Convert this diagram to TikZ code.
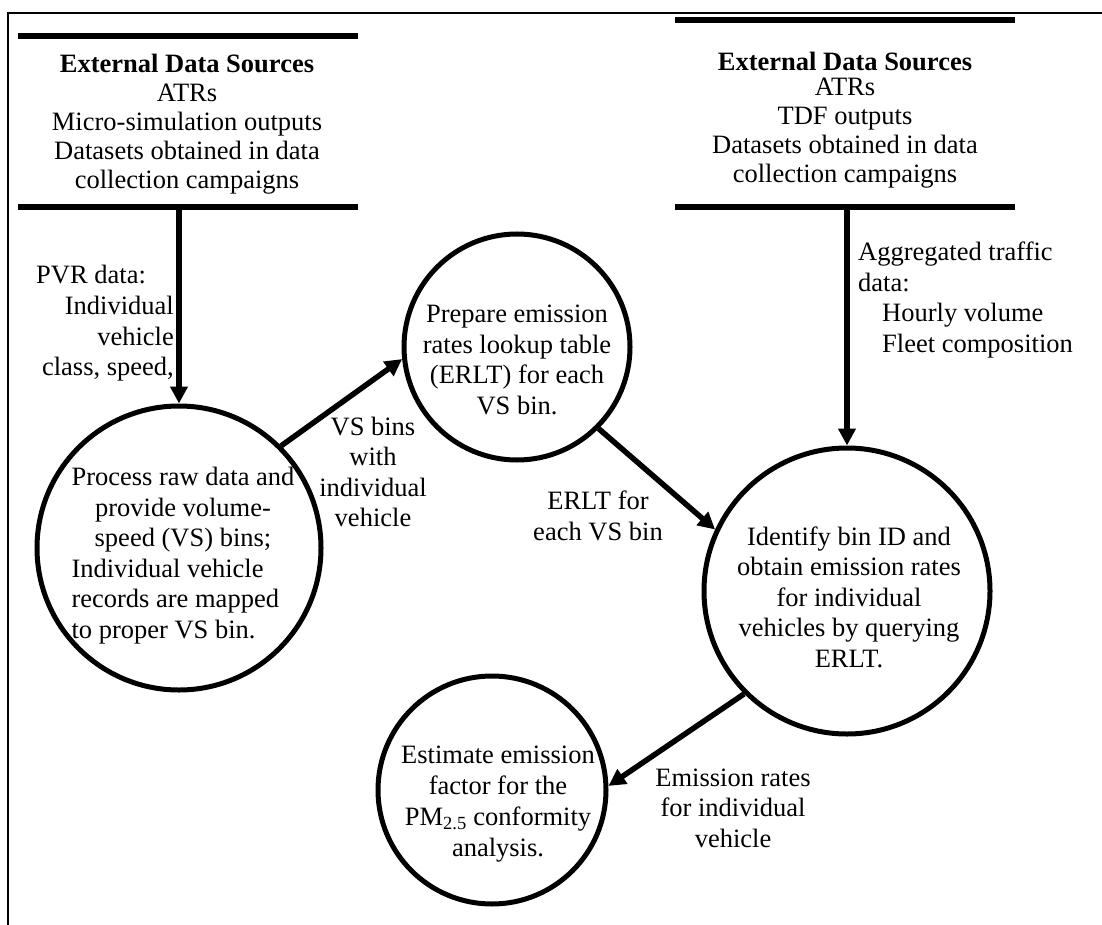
\documentclass[tikz,border=0pt]{standalone}
\usepackage{fontspec}
\setmainfont{Liberation Serif}
\usetikzlibrary{arrows.meta}
\begin{document}
\begin{tikzpicture}[x=1pt,y=-1pt,
  txt/.style={font=\fontsize{26.5}{30.5}\selectfont, inner sep=0pt, align=center},
  srctxt/.style={font=\fontsize{26.5}{29}\selectfont, inner sep=0pt, align=center},
  proc/.style={circle, draw, line width=5pt, inner sep=0pt, minimum size=#1},
  flow/.style={line width=5.5pt, -{Triangle[length=17pt,width=17pt]}},
  bar/.style={line width=6.5pt},
  frame/.style={line width=2.5pt}]
\useasboundingbox (0,0) rectangle (1102,925);
\fill[white] (0,0) rectangle (1102,925);

% outer frame (top and left edges)
\draw[frame] (8,925) -- (8,13) -- (1102,13);

% external data stores (open boxes)
\draw[bar] (18,36) -- (358,36);
\draw[bar] (18,207) -- (358,207);
\draw[bar] (675,20) -- (1015,20);
\draw[bar] (675,207) -- (1015,207);
\coordinate (srcL) at (179,207);
\coordinate (srcR) at (847,207);

\node[srctxt] (storeL) at (187,124) {\textbf{External Data Sources}\\ATRs\\Micro-simulation outputs\\Datasets obtained in data\\collection campaigns};
\node[srctxt] (storeRt) at (845,61) {\textbf{External Data Sources}};
\node[srctxt] (storeR) at (845,133) {ATRs\\TDF outputs\\Datasets obtained in data\\collection campaigns};

% processes
\node[proc=284pt] (c1) at (179,548) {};
\node[proc=226pt] (c2) at (517,347) {};
\node[proc=286pt] (c3) at (847,591) {};
\node[proc=228pt] (c4) at (492,790) {};

\node[txt] (t1) at (183,556) {\begin{tabular}{@{}l@{}}
\multicolumn{1}{@{}c@{}}{Process raw data and}\\
\multicolumn{1}{@{}c@{}}{provide volume-}\\
\multicolumn{1}{@{}c@{}}{speed (VS) bins;}\\
Individual vehicle\\
records are mapped\\
to proper VS bin.
\end{tabular}};
\node[txt] (t2) at (517,360) {Prepare emission\\rates lookup table\\(ERLT) for each\\VS bin.};
\node[txt] (t3) at (849,597) {Identify bin ID and\\obtain emission rates\\for individual\\vehicles by querying\\ERLT.};
\node[txt, font=\fontsize{26.5}{31}\selectfont] (t4) at (498,804) {Estimate emission\\factor for the\\PM\textsubscript{2.5} conformity\\analysis.};

% data flows
\draw[flow] (srcL) -- (c1.north);
\draw[flow] (srcR) -- (c3.north);
\draw[flow] (c1.45) -- (c2.186);
\draw[flow] (c2.315) -- (c3.155);
\draw[flow] (c3.225) -- (c4.2);

% flow labels
\node[txt, anchor=west] (pvrA) at (36,275) {PVR data:};
\node[txt, align=right, anchor=east] (pvrB) at (174,339) {Individual\\vehicle\\class, speed,};
\node[txt, align=left, anchor=west] (agg) at (858,300) {Aggregated traffic\\data:\\\hspace*{24pt}Hourly volume\\\hspace*{24pt}Fleet composition};
\node[txt] (vsb) at (373,472) {VS bins\\with\\individual\\vehicle};
\node[txt] (erl) at (598,516) {ERLT for\\each VS bin};
\node[txt] (emr) at (733,808) {Emission rates\\for individual\\vehicle};
\end{tikzpicture}
\end{document}
